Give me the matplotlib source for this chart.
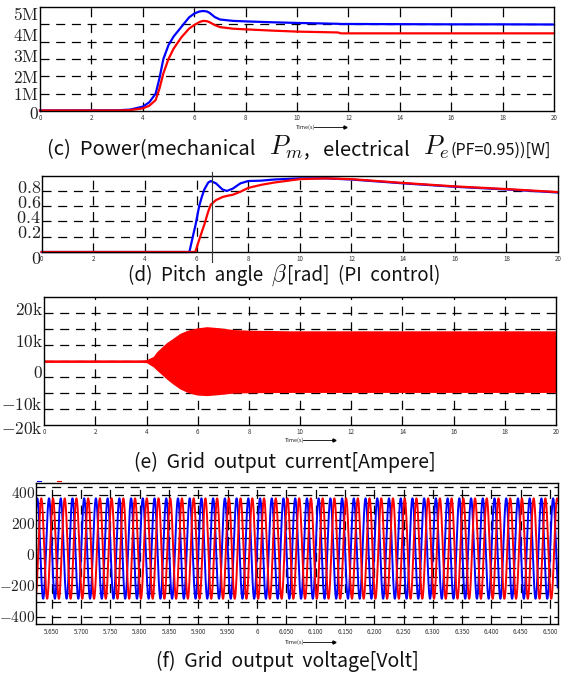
import matplotlib.pyplot as plt
import numpy as np
from matplotlib.transforms import offset_copy

plt.rcParams['mathtext.fontset'] = 'cm'
plt.rcParams['lines.scale_dashes'] = False
plt.rcParams['font.family'] = ['Noto Sans CJK KR', 'DejaVu Sans']

# ---------------- data ----------------
# (c) power, in MW
t_pow = [0, 3, 3.5, 4, 4.25, 4.5, 4.65, 4.8, 5.0, 5.2, 5.5, 5.8, 6.0, 6.2, 6.35, 6.5, 6.6,
         6.8, 7.0, 7.5, 8, 9, 10, 11, 11.6, 11.7, 12, 14, 16, 18, 20]
p_mech = [0.03, 0.04, 0.08, 0.25, 0.5, 1.0, 1.9, 3.0, 3.8, 4.3, 4.85, 5.4, 5.62, 5.74, 5.77, 5.74, 5.66,
          5.42, 5.28, 5.2, 5.17, 5.12, 5.08, 5.05, 5.03, 5.02, 5.02, 5.01, 5.0, 5.0, 4.99]
p_elec = [0.03, 0.03, 0.05, 0.15, 0.3, 0.63, 1.3, 2.17, 3.0, 3.6, 4.25, 4.75, 4.96, 5.13, 5.2, 5.18, 5.12,
          4.96, 4.84, 4.75, 4.71, 4.64, 4.58, 4.55, 4.53, 4.48, 4.48, 4.48, 4.48, 4.48, 4.48]

# (d) pitch angle, rad
t_pitch = [0, 5.72, 5.9, 5.95, 6.1, 6.2, 6.3, 6.45, 6.55, 6.75, 7.0, 7.17, 7.4, 7.7, 8.0, 8.5,
           9, 10, 11, 12, 14, 16, 18, 20]
pitch_a = [0, 0, 0.27, 0.34, 0.6, 0.72, 0.82, 0.91, 0.93, 0.9, 0.82, 0.80, 0.83, 0.9, 0.93, 0.935,
           0.95, 0.965, 0.965, 0.95, 0.90, 0.855, 0.82, 0.78]
pitch_b = [0, 0, 0, 0, 0.16, 0.26, 0.36, 0.53, 0.62, 0.68, 0.72, 0.735, 0.75, 0.79, 0.84, 0.88,
           0.91, 0.955, 0.965, 0.955, 0.905, 0.86, 0.825, 0.785]
pitch_mark = 6.6

# (e) grid current envelope, kA
t_cur = [0, 3.6, 3.8, 4.0, 4.26, 4.39, 4.6, 4.78, 5.0, 5.3, 5.6, 5.95, 6.35, 6.8, 7.39,
         8, 9.6, 12, 14, 16, 18, 20]
cur_hi = [0.4, 0.4, 0.4, 0.5, 1.5, 2.9, 4.5, 5.8, 7.0, 8.7, 9.7, 10.4, 10.8, 10.5, 9.9,
          9.7, 9.5, 9.5, 9.5, 9.5, 9.5, 9.5]
cur_lo = [-0.4, -0.4, -0.4, -0.5, -1.8, -2.8, -4.3, -5.6, -7.0, -8.7, -9.8, -10.6, -10.8, -10.5, -10.0,
          -9.9, -9.8, -9.8, -9.8, -9.8, -9.8, -9.8]

# (f) grid voltage: 50 Hz waves, peaks ~358 V, troughs ~-290 V
v_freq = 50.0
v_peak = 358.0
v_trough = -290.0
v_peak_time_a = 5.6252
v_peak_time_b = 5.6320

# tick labels (the scan prints the y labels a little off their grid lines)
pow_ylabels = ['$0$', r'$1\mathrm{M}$', r'$2\mathrm{M}$', r'$3\mathrm{M}$', r'$4\mathrm{M}$', r'$5\mathrm{M}$']
pow_ylabel_pos = [-0.06e6, 1.04e6, 2.02e6, 3.23e6, 4.44e6, 5.65e6]
pitch_ylabels = ['$0$', '$0.2$', '$0.4$', '$0.6$', '$0.8$']
pitch_ylabel_pos = [-0.06, 0.27, 0.47, 0.667, 0.87]
cur_ylabels = [r'$-20\mathrm{k}$', r'$-10\mathrm{k}$', '$0$', r'$10\mathrm{k}$', r'$20\mathrm{k}$']
cur_ylabel_pos = [-20.5e3, -13.2e3, -3.1e3, 6.6e3, 16.6e3]
volt_ylabels = ['$-400$', '$-200$', '$0$', '$200$', '$400$']
volt_ylabel_pos = [-400, -200, 0, 200, 400]
time_ticks = [0, 2, 4, 6, 8, 10, 12, 14, 16, 18, 20]
volt_xticks = [5.65, 5.70, 5.75, 5.80, 5.85, 5.90, 5.95, 6.0, 6.05, 6.10, 6.15,
               6.20, 6.25, 6.30, 6.35, 6.40, 6.45, 6.50]
volt_xlabels = ['5.650', '5.700', '5.750', '5.800', '5.850', '5.900', '5.950', '6',
                '6.050', '6.100', '6.150', '6.200', '6.250', '6.300', '6.350', '6.400',
                '6.450', '6.500']

# ---------------- figure ----------------
W, H = 565, 675
fig = plt.figure(figsize=(W / 100, H / 100), dpi=100)
DASH = (0, (6.5, 4.8))
BLUE = '#0000ff'
RED = '#ff0000'


def panel(l, t, r, b):
    # box in pixels measured from the top-left corner
    return fig.add_axes([l / W, 1 - b / H, (r - l) / W, (b - t) / H])


def style(ax, xlim, ylim, hgrid, vgrid, ypos, ylab, xpos, xlab, ysize=12.5, ypad=0.5):
    for y in hgrid:
        ax.axhline(y, color='k', lw=0.9, ls=DASH, zorder=1)
    for x in vgrid:
        ax.axvline(x, color='k', lw=0.9, ls=DASH, zorder=1)
    ax.set_xticks(xpos, xlab)
    ax.set_yticks([])
    ax.set_xlim(xlim)
    ax.set_ylim(ylim)
    tr = offset_copy(ax.get_yaxis_transform(), fig=fig, x=-ypad, units='points')
    for p, s in zip(ypos, ylab):
        ax.text(0, p, s, transform=tr, ha='right', va='center_baseline', fontsize=ysize,
                color='#222222', clip_on=False)
    ax.tick_params(length=0)
    ax.tick_params(axis='x', labelsize=4.5, pad=2.5, labelcolor='#333333')
    for s in ax.spines.values():
        s.set_linewidth(1.0)
        s.set_zorder(5)


def time_label(x, y):
    fig.text(x / W, 1 - y / H, 'Time(s)', fontsize=4, va='center', color='#222222')
    ay = 1 - y / H
    fig.add_artist(plt.Line2D([(x + 18) / W, (x + 48) / W], [ay, ay], color='k', lw=0.6))
    fig.add_artist(plt.Line2D([(x + 49) / W], [ay], color='k', marker='>', ms=2.2, lw=0))


def caption(pieces, cx, base_y):
    r = fig.canvas.get_renderer()
    items = []
    for s, size in pieces:
        t = fig.text(0, 1 - base_y / H, s, fontsize=size, va='baseline', color='#111111')
        items.append(t)
    widths = [t.get_window_extent(r).width for t in items]
    x = cx - sum(widths) / 2
    for t, w in zip(items, widths):
        t.set_x(x / W)
        x += w


# (c) power
ax1 = panel(40, 7, 554, 111)
ax1.plot(t_pow, np.array(p_mech) * 1e6, color=BLUE, lw=1.6, zorder=3, clip_on=False)
ax1.plot(t_pow, np.array(p_elec) * 1e6, color=RED, lw=1.6, zorder=4, clip_on=False)
style(ax1, (0, 20), (0, 6e6), [1e6, 2e6, 3e6, 4e6, 5e6], time_ticks[1:-1],
      pow_ylabel_pos, pow_ylabels, time_ticks, [str(v) for v in time_ticks])
time_label(296, 127)

# (d) pitch angle
ax2 = panel(41.7, 175.7, 558, 252)
ax2.plot(t_pitch, pitch_a, color=BLUE, lw=1.6, zorder=3, clip_on=False)
ax2.plot(t_pitch, pitch_b, color=RED, lw=1.6, zorder=4, clip_on=False)
ax2.plot([pitch_mark, pitch_mark], [-0.13, 1.05], color='#333333', lw=0.8, zorder=6,
         clip_on=False)
style(ax2, (0, 20), (0, 1), [0.2, 0.4, 0.6, 0.8], time_ticks[1:-1],
      pitch_ylabel_pos, pitch_ylabels, time_ticks, [str(v) for v in time_ticks], ysize=13)

# (e) grid current
ax3 = panel(44.3, 297.3, 556, 425)
ax3.fill_between(t_cur, np.array(cur_lo) * 1e3, np.array(cur_hi) * 1e3, color=RED, lw=0,
                 zorder=3)
style(ax3, (0, 20), (-20e3, 20e3), [v * 1e3 for v in range(-15, 20, 5)], time_ticks[1:-1],
      cur_ylabel_pos, cur_ylabels, time_ticks, [str(v) for v in time_ticks], ypad=1)
time_label(285, 440)

# (f) grid voltage
ax4 = panel(36, 483.3, 557.7, 624.3)
tv = np.linspace(5.62, 6.52, 20000)
v_mid = (v_peak + v_trough) / 2
v_amp = (v_peak - v_trough) / 2
va = v_mid + v_amp * np.cos(2 * np.pi * v_freq * (tv - v_peak_time_a))
vb = v_mid + v_amp * np.cos(2 * np.pi * v_freq * (tv - v_peak_time_b))
ax4.axhline(v_mid, color='#666666', lw=0.9, zorder=2)
ax4.plot(tv, va, color=BLUE, lw=1.4, zorder=3)
ax4.plot(tv, vb, color=RED, lw=1.4, zorder=4)
style(ax4, (5.623, 6.513), (-455, 455),
      [433, 379, 326, 272, 218, 164, 100, -29, -94, -148, -201, -255, -309, -406],
      volt_xticks, volt_ylabel_pos, volt_ylabels, volt_xticks, volt_xlabels,
      ysize=11, ypad=0.3)
fig.add_artist(plt.Line2D([37 / W, 41 / W], [1 - 481 / H] * 2, color=BLUE, lw=0.8))
fig.add_artist(plt.Line2D([57 / W, 61 / W], [1 - 481 / H] * 2, color=RED, lw=0.8))
time_label(285, 642)

# captions
caption([('(c)  Power(mechanical   ', 14.5), ('$P_m$', 19), (',   electrical   ', 14.5),
         ('$P_e$', 19), ('(PF=0.95))[W]', 11.5)], 299, 155)
caption([('(d)  Pitch  angle  ', 13.5), (r'$\beta$', 17), ('[rad]  (PI  control)', 13.5)], 284, 281)
caption([('(e)  Grid  output  current[Ampere]', 14)], 285, 468)
caption([('(f)  Grid  output  voltage[Volt]', 14)], 287, 667)

fig.savefig('out.png', dpi=100)
